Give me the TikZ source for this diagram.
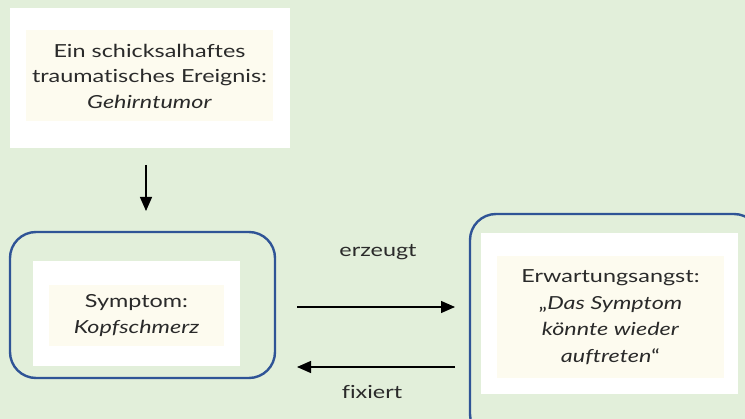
\documentclass[tikz,border=0pt]{standalone}
\usepackage{fontspec}
\setmainfont{Lato}[FakeStretch=1.3, Ligatures={NoCommon}]
\usetikzlibrary{arrows.meta}
\definecolor{bg}{HTML}{E2EFDA}
\definecolor{creamc}{HTML}{FDFBEF}
\definecolor{framec}{HTML}{2F5496}
\definecolor{txt}{HTML}{2A2A2A}
\tikzset{
  whitebox/.style={fill=white, draw=none, inner sep=0pt},
  creambox/.style={fill=creamc, draw=none, inner sep=0pt, align=center,
    font=\fontsize{18}{25.5}\selectfont, text=txt},
  roundframe/.style={draw=framec, line width=2.4pt, rounded corners=26pt, inner sep=0pt},
  conn/.style={line width=1.3pt, -{Triangle[length=14pt,width=12pt]}},
  lbl/.style={font=\fontsize{18}{20}\selectfont, text=txt}
}
\begin{document}
\begin{tikzpicture}[x=1pt,y=-1pt]
\fill[bg] (0,0) rectangle (745,419);
\useasboundingbox (0,0) rectangle (745,419);
\clip (0,0) rectangle (745,419);
% top
\node[whitebox, minimum width=280pt, minimum height=140pt] (topw) at (150,78) {};
\node[creambox, minimum width=247pt, minimum height=91pt] (top) at (149.5,76)
  {Ein schicksalhaftes\\traumatisches Ereignis:\\\textit{Gehirntumor}};
% left
\node[roundframe, minimum width=265pt, minimum height=146pt] (lframe) at (142.5,305) {};
\node[whitebox, minimum width=207pt, minimum height=105pt] (lwhite) at (136.5,313.5) {};
\node[creambox, minimum width=175pt, minimum height=61pt] (sym) at (136.5,315.5)
  {Symptom:\\\textit{Kopfschmerz}};
% right
\node[roundframe, minimum width=290pt, minimum height=226pt] (rframe) at (615,327) {};
\node[whitebox, minimum width=257pt, minimum height=161pt] (rwhite) at (609.5,313.5) {};
\node[creambox, minimum width=227pt, minimum height=122pt, font=\fontsize{18}{26.5}\selectfont] (ang) at (610.5,317)
  {Erwartungsangst:\\„\textit{Das Symptom}\\\textit{könnte wieder}\\\textit{auftreten}“};
% connectors
\coordinate (d1) at (146,165);
\coordinate (d2) at (146,211);
\draw[conn] (d1) -- (d2);
\coordinate (a1) at (297,307);
\coordinate (a2) at (455,307);
\draw[conn] (a1) -- (a2);
\coordinate (b1) at (455,367);
\coordinate (b2) at (297,367);
\draw[conn] (b1) -- (b2);
\node[lbl] (erz) at (378,252) {erzeugt};
\node[lbl] (fix) at (372,392) {fixiert};
\end{tikzpicture}
\end{document}
